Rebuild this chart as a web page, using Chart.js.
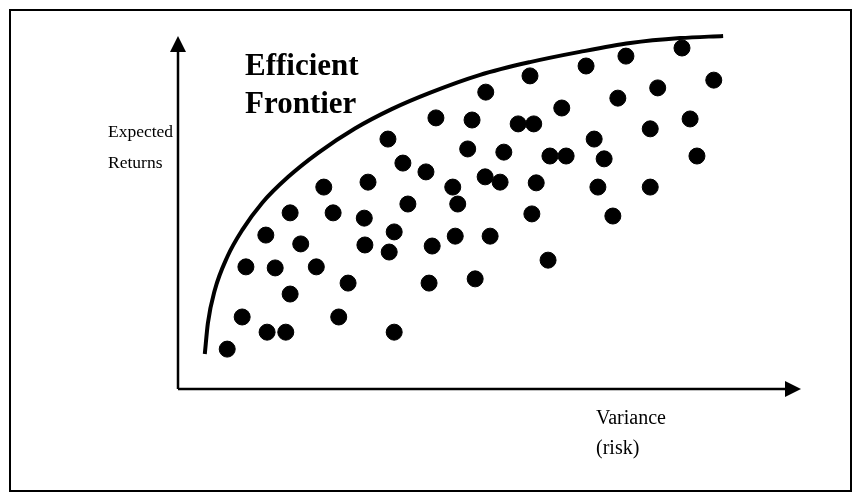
<!DOCTYPE html>
<html>
<head>
<meta charset="utf-8">
<script src="https://cdn.jsdelivr.net/npm/chart.js@4"></script>
<style>
  body { margin: 0; background: #fff; }
</style>
</head>
<body>
<canvas id="frontier-chart" width="861" height="500"></canvas>
<script>
// portfolios: variance (risk) vs expected return, arbitrary 0-100 units
const riskValues = [80.9, 71.9, 65.5, 56.5, 86.0, 49.4, 77.0, 70.6, 61.6, 41.4,
  47.2, 54.6, 57.1, 82.2, 75.8, 33.7, 66.8, 46.5, 52.3, 59.7,
  62.3, 68.4, 83.3, 36.1, 39.8, 49.3, 51.7, 30.5, 23.4, 44.1,
  57.5, 67.4, 75.8, 36.9, 44.9, 56.8, 69.8, 18.0, 24.9, 29.9,
  34.7, 44.5, 50.1, 14.1, 19.7, 30.0, 33.9, 40.8, 59.4, 10.9,
  15.6, 22.2, 47.7, 27.3, 40.3, 18.0, 10.3, 25.8, 14.3, 17.3,
  34.7, 7.9];
const returnValues = [96.6, 94.3, 91.5, 88.7, 87.5, 84.1, 85.3, 82.4, 79.6, 76.8,
  76.2, 75.1, 75.1, 76.5, 73.7, 70.8, 70.8, 68.0, 67.1, 66.0,
  66.0, 65.2, 66.0, 64.0, 61.5, 60.1, 58.6, 58.6, 57.2, 57.2,
  58.4, 57.2, 57.2, 52.4, 52.4, 49.6, 49.0, 49.9, 49.9, 48.4,
  44.5, 43.3, 43.3, 43.6, 41.1, 40.8, 38.8, 40.5, 36.5, 34.6,
  34.3, 34.6, 31.2, 30.0, 30.0, 26.9, 20.4, 20.4, 16.1, 16.1,
  16.1, 11.3];

// efficient frontier
const frontierRisk = [4.3, 4.8, 5.9, 7.9, 10.3, 13.5, 17.7, 22.5, 28.4, 34.3, 40.4, 48.5, 56.5, 64.5, 72.6, 80.6, 87.5];
const frontierReturn = [9.9, 18.7, 28.0, 37.4, 45.0, 52.7, 60.1, 66.9, 73.8, 79.3, 83.9, 89.0, 92.6, 95.5, 98.0, 99.4, 100.0];

const dots = riskValues.map((r, i) => ({ x: r, y: returnValues[i] }));
const curve = frontierRisk.map((r, i) => ({ x: r, y: frontierReturn[i] }));

const serif = '"Liberation Serif", "DejaVu Serif", serif';

const diagram = {
  id: 'diagram',
  beforeDraw(chart) {
    const c = chart.ctx;
    c.save();
    c.fillStyle = '#fff';
    c.fillRect(0, 0, chart.width, chart.height);
    c.strokeStyle = '#000';
    c.lineWidth = 2;
    c.strokeRect(10, 10, 841, 481);
    c.restore();
  },
  afterDraw(chart) {
    const c = chart.ctx;
    const a = chart.chartArea;
    c.save();
    c.strokeStyle = '#000';
    c.fillStyle = '#000';
    c.lineWidth = 2.5;
    // y axis
    c.beginPath();
    c.moveTo(a.left, a.bottom);
    c.lineTo(a.left, a.top + 10);
    c.stroke();
    c.beginPath();
    c.moveTo(a.left, a.top);
    c.lineTo(a.left - 8, a.top + 16);
    c.lineTo(a.left + 8, a.top + 16);
    c.closePath();
    c.fill();
    // x axis
    c.beginPath();
    c.moveTo(a.left, a.bottom);
    c.lineTo(a.right - 10, a.bottom);
    c.stroke();
    c.beginPath();
    c.moveTo(a.right, a.bottom);
    c.lineTo(a.right - 16, a.bottom - 8);
    c.lineTo(a.right - 16, a.bottom + 8);
    c.closePath();
    c.fill();

    c.textBaseline = 'alphabetic';
    c.textAlign = 'left';
    c.font = 'bold 31px ' + serif;
    c.fillText('Efficient', 245, 75);
    c.fillText('Frontier', 245, 113);
    c.font = '17.5px ' + serif;
    c.fillText('Expected', 108, 137);
    c.fillText('Returns', 108, 168);
    c.font = '20px ' + serif;
    c.fillText('Variance', 596, 424);
    c.fillText('(risk)', 596, 454);
    c.restore();
  }
};

new Chart(document.getElementById('frontier-chart'), {
  type: 'scatter',
  data: {
    datasets: [{
      label: 'Efficient Frontier',
      type: 'line',
      data: curve,
      borderColor: '#000',
      borderWidth: 4,
      pointRadius: 0,
      cubicInterpolationMode: 'monotone',
      fill: false,
      clip: false
    }, {
      label: 'Portfolios',
      data: dots,
      backgroundColor: '#000',
      borderColor: '#000',
      pointRadius: 8,
      pointHoverRadius: 8
    }]
  },
  options: {
    responsive: false,
    animation: false,
    layout: { padding: { left: 178, right: 60, top: 36, bottom: 111 } },
    plugins: { legend: { display: false }, tooltip: { enabled: false } },
    scales: {
      x: { type: 'linear', min: 0, max: 100, display: false },
      y: { type: 'linear', min: 0, max: 100, display: false }
    }
  },
  plugins: [diagram]
});
</script>
</body>
</html>
